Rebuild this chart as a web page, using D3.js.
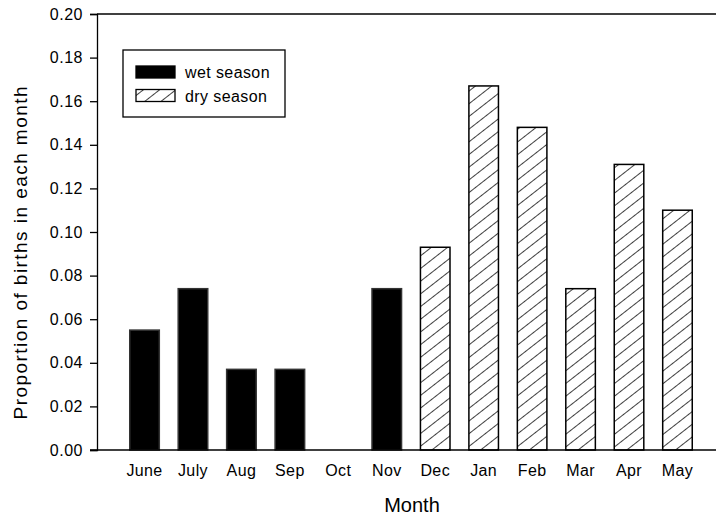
<!DOCTYPE html>
<html>
<head>
<meta charset="utf-8">
<script src="https://cdn.jsdelivr.net/npm/d3@7"></script>
<style>
  body { margin: 0; background: #fff; }
  text { font-family: "Liberation Sans", Arial, sans-serif; fill: #000; }
</style>
</head>
<body>
<div id="chart"></div>
<script>
const months = ['June', 'July', 'Aug', 'Sep', 'Oct', 'Nov', 'Dec', 'Jan', 'Feb', 'Mar', 'Apr', 'May'];
const proportions = [0.055, 0.074, 0.037, 0.037, 0, 0.074, 0.093, 0.167, 0.148, 0.074, 0.131, 0.110];
const seasons = ['wet', 'wet', 'wet', 'wet', 'wet', 'wet', 'dry', 'dry', 'dry', 'dry', 'dry', 'dry'];
const yTicks = [0, 0.02, 0.04, 0.06, 0.08, 0.10, 0.12, 0.14, 0.16, 0.18, 0.20];
const legendItems = [{ key: 'wet', label: 'wet season' }, { key: 'dry', label: 'dry season' }];

const width = 716;
const height = 518;

const svg = d3.select('#chart')
  .append('svg')
  .attr('width', width)
  .attr('height', height);

// diagonal hatch for the dry season
svg.append('defs')
  .append('pattern')
  .attr('id', 'hatch')
  .attr('patternUnits', 'userSpaceOnUse')
  .attr('width', 10)
  .attr('height', 10)
  .attr('patternTransform', 'rotate(52)')
  .append('line')
  .attr('x1', 0).attr('y1', -1)
  .attr('x2', 0).attr('y2', 11)
  .attr('stroke', '#000')
  .attr('stroke-width', 1.5);

const fillFor = k => k === 'wet' ? '#000' : 'url(#hatch)';

const x = d3.scaleBand()
  .domain(months)
  .range([120.3, 701.7])
  .paddingInner(0.39)
  .paddingOuter(0.195);

const y = d3.scaleLinear()
  .domain([0, 0.2])
  .range([450, 14]);

const axisX = 97;

// y axis
const yAxis = svg.append('g')
  .attr('transform', 'translate(' + axisX + ',0)')
  .call(d3.axisLeft(y).tickValues(yTicks).tickFormat(d3.format('.2f')).tickSize(7).tickPadding(7));
yAxis.select('.domain').attr('stroke', '#000').attr('stroke-width', 1.3);
yAxis.selectAll('.tick line').attr('stroke', '#000').attr('stroke-width', 1.3);
yAxis.selectAll('.tick text')
  .style('font-size', '16px')
  .style('letter-spacing', '0.5px')
  .attr('fill', '#000');

// top frame line
svg.append('line')
  .attr('x1', axisX).attr('x2', width)
  .attr('y1', y(0.2)).attr('y2', y(0.2))
  .attr('stroke', '#000').attr('stroke-width', 1.3);

// bars
svg.append('g')
  .selectAll('rect')
  .data(months)
  .enter()
  .append('rect')
  .attr('x', d => x(d))
  .attr('y', (d, i) => y(proportions[i]))
  .attr('width', x.bandwidth())
  .attr('height', (d, i) => y(0) - y(proportions[i]))
  .attr('fill', (d, i) => fillFor(seasons[i]))
  .attr('stroke', (d, i) => seasons[i] === 'wet' ? '#333' : '#000')
  .attr('stroke-width', (d, i) => proportions[i] > 0 ? 1.5 : 0);

// baseline
svg.append('line')
  .attr('x1', axisX - 7).attr('x2', width)
  .attr('y1', y(0)).attr('y2', y(0))
  .attr('stroke', '#000').attr('stroke-width', 1.3);

// x labels
svg.append('g')
  .selectAll('text')
  .data(months)
  .enter()
  .append('text')
  .attr('x', d => x(d) + x.bandwidth() / 2)
  .attr('y', 476)
  .attr('text-anchor', 'middle')
  .style('font-size', '16px')
  .style('letter-spacing', '0.4px')
  .text(d => d);

// axis titles
svg.append('text')
  .attr('x', 412)
  .attr('y', 512)
  .attr('text-anchor', 'middle')
  .style('font-size', '20px')
  .text('Month');

svg.append('text')
  .attr('transform', 'translate(27,253) rotate(-90)')
  .attr('text-anchor', 'middle')
  .attr('textLength', 333)
  .attr('lengthAdjust', 'spacing')
  .style('font-size', '19px')
  .text('Proportion of births in each month');

// legend
const legend = svg.append('g');
legend.append('rect')
  .attr('x', 123).attr('y', 50)
  .attr('width', 162).attr('height', 67)
  .attr('fill', '#fff')
  .attr('stroke', '#000')
  .attr('stroke-width', 1.3);

const item = legend.selectAll('g.item')
  .data(legendItems)
  .enter()
  .append('g')
  .attr('class', 'item')
  .attr('transform', (d, i) => 'translate(0,' + (i * 23.5) + ')');

item.append('rect')
  .attr('x', 136).attr('y', 66)
  .attr('width', 39).attr('height', 12)
  .attr('fill', d => fillFor(d.key))
  .attr('stroke', '#000')
  .attr('stroke-width', 1.3);

item.append('text')
  .attr('x', 185)
  .attr('y', 78)
  .style('font-size', '16px')
  .style('letter-spacing', '0.4px')
  .text(d => d.label);
</script>
</body>
</html>
